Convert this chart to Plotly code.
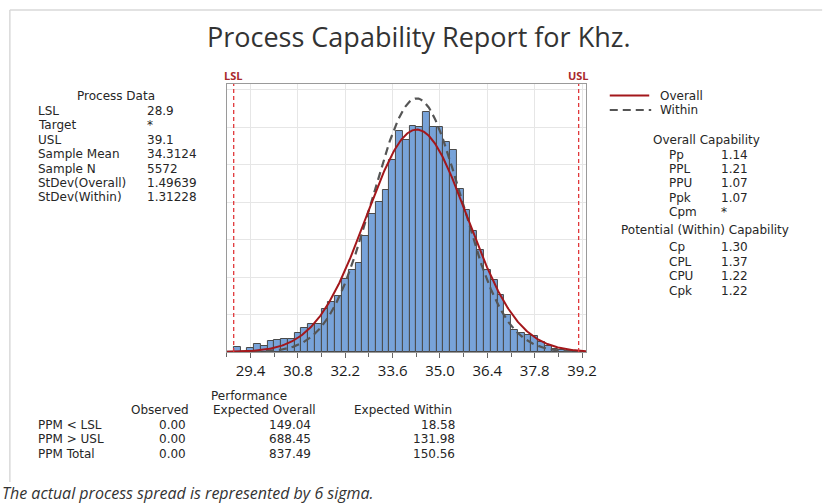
import numpy as np
import plotly.graph_objects as go

# ---------------- data ----------------
bin_centers = [29.0, 29.2, 29.4, 29.6, 29.8, 30.0, 30.2, 30.4, 30.6, 30.8,
               31.0, 31.2, 31.4, 31.6, 31.8, 32.0, 32.2, 32.4, 32.6, 32.8,
               33.0, 33.2, 33.4, 33.6, 33.8, 34.0, 34.2, 34.4, 34.6, 34.8,
               35.0, 35.2, 35.4, 35.6, 35.8, 36.0, 36.2, 36.4, 36.6, 36.8,
               37.0, 37.2, 37.4, 37.6, 37.8, 38.0, 38.2, 38.4, 38.6, 38.8, 39.0]
bin_counts = [7, 0, 6, 11, 8, 15, 16, 18, 17, 25,
              32, 38, 38, 58, 67, 75, 98, 110, 119, 155,
              185, 201, 217, 257, 295, 283, 302, 301, 321, 301,
              300, 280, 270, 218, 190, 162, 136, 109, 96, 76,
              50, 29, 25, 23, 21, 13, 8, 4, 3, 2, 1]
bin_width = 0.2

LSL = 28.9
USL = 39.1
sample_mean = 34.3124
sample_n = 5572
sd_overall = 1.49639
sd_within = 1.31228

tick_vals = [29.4, 30.8, 32.2, 33.6, 35.0, 36.4, 37.8, 39.2]
tick_text = ["29.4", "30.8", "32.2", "33.6", "35.0", "36.4", "37.8", "39.2"]

process_labels = ["LSL", "Target", "USL", "Sample Mean", "Sample N", "StDev(Overall)", "StDev(Within)"]
process_values = ["28.9", "*", "39.1", "34.3124", "5572", "1.49639", "1.31228"]

overall_labels = ["Pp", "PPL", "PPU", "Ppk", "Cpm"]
overall_values = ["1.14", "1.21", "1.07", "1.07", "*"]
within_labels = ["Cp", "CPL", "CPU", "Cpk"]
within_values = ["1.30", "1.37", "1.22", "1.22"]

perf_rows = ["PPM < LSL", "PPM > USL", "PPM Total"]
perf_observed = ["0.00", "0.00", "0.00"]
perf_exp_overall = ["149.04", "688.45", "837.49"]
perf_exp_within = ["18.58", "131.98", "150.56"]

# ---------------- layout helpers ----------------
W, H = 825, 503
FONT = "Open Sans, Noto Sans, sans-serif"
SMALL_FONT = "DejaVu Sans, Open Sans, sans-serif"
TXT = "#262626"
SMALL = 12


def px(x):
    return x / W


def py(y):
    return 1 - y / H


annotations = []
shapes = []


def text(x, y, s, size=SMALL, anchor="left", color=TXT, family=SMALL_FONT, **kw):
    annotations.append(dict(x=px(x), y=py(y), xref="paper", yref="paper", text=s,
                            showarrow=False, xanchor=anchor, yanchor="middle", borderpad=0,
                            font=dict(family=family, size=size, color=color), **kw))


# ---------------- figure ----------------
fig = go.Figure()
fig.add_trace(go.Bar(x=bin_centers, y=bin_counts, width=bin_width,
                     marker=dict(color="#78a3d9", line=dict(color="#4a4a4a", width=1)),
                     showlegend=False, hoverinfo="x+y"))

xs = np.linspace(28.7, 39.32, 400)
scale = sample_n * bin_width
y_overall = scale * np.exp(-0.5 * ((xs - sample_mean) / sd_overall) ** 2) / (sd_overall * np.sqrt(2 * np.pi))
y_within = scale * np.exp(-0.5 * ((xs - sample_mean) / sd_within) ** 2) / (sd_within * np.sqrt(2 * np.pi))

fig.add_trace(go.Scatter(x=xs, y=y_within, mode="lines",
                         line=dict(color="#555555", width=2.2, dash="8px,5px"), showlegend=False))
fig.add_trace(go.Scatter(x=xs, y=y_overall, mode="lines",
                         line=dict(color="#a3171b", width=2), showlegend=False))

# spec limit lines
for v, lab in [(LSL, "LSL"), (USL, "USL")]:
    shapes.append(dict(type="line", xref="x", yref="y domain", x0=v, x1=v, y0=0, y1=1,
                       line=dict(color="#e0383b", width=1.3, dash="4px,3px")))
    annotations.append(dict(x=v, xref="x", y=py(76), yref="paper", text="<b>%s</b>" % lab,
                            showarrow=False, xanchor="center", yanchor="middle",
                            font=dict(family=FONT, size=11, color="#a8282c")))

# outer frame
shapes.append(dict(type="line", xref="paper", yref="paper", x0=px(10), x1=px(10), y0=py(10), y1=py(482),
                   line=dict(color="#d9d9d9", width=1.5)))
shapes.append(dict(type="line", xref="paper", yref="paper", x0=px(10), x1=1.01, y0=py(10), y1=py(10),
                   line=dict(color="#d9d9d9", width=1.5)))

# title
text(425, 36, "Process Capability Report for Khz.", size=27, anchor="center", color="#333333", family=FONT)

# process data
text(118, 96, "Process Data", anchor="center")
for i, (l, v) in enumerate(zip(process_labels, process_values)):
    yy = 111 + i * 14.4
    text(37, yy, l)
    text(148, yy, v)

# legend
shapes.append(dict(type="line", xref="paper", yref="paper", x0=px(618), x1=px(658), y0=py(95.5), y1=py(95.5),
                   line=dict(color="#a3171b", width=2)))
shapes.append(dict(type="line", xref="paper", yref="paper", x0=px(618), x1=px(660), y0=py(110), y1=py(110),
                   line=dict(color="#555555", width=2, dash="8px,5px")))
text(668, 95.5, "Overall")
text(668, 110, "Within")

# capability
text(716, 140, "Overall Capability", anchor="center")
for i, (l, v) in enumerate(zip(overall_labels, overall_values)):
    yy = 154.5 + i * 14.4
    text(677, yy, l)
    text(730, yy, v)
text(715, 230, "Potential (Within) Capability", anchor="center")
for i, (l, v) in enumerate(zip(within_labels, within_values)):
    yy = 247 + i * 14.6
    text(677, yy, l)
    text(730, yy, v)

# performance
text(252, 395.5, "Performance", anchor="center")
text(162, 410, "Observed", anchor="center")
text(268, 410, "Expected Overall", anchor="center")
text(408, 410, "Expected Within", anchor="center")
for i, r in enumerate(perf_rows):
    yy = 424.5 + i * 14.5
    text(38, yy, r)
    text(190, yy, perf_observed[i], anchor="right")
    text(316, yy, perf_exp_overall[i], anchor="right")
    text(462, yy, perf_exp_within[i], anchor="right")

text(1, 493, "<i>The actual process spread is represented by 6 sigma.</i>", size=16, color="#333333",
     family=FONT)

fig.update_layout(
    width=W, height=H,
    margin=dict(l=0, r=0, t=0, b=0),
    paper_bgcolor="white", plot_bgcolor="white",
    bargap=0,
    shapes=shapes, annotations=annotations,
    xaxis=dict(domain=[px(230), px(594)], range=[28.7, 39.32],
               tickvals=tick_vals, ticktext=tick_text,
               ticks="outside", ticklen=5, tickcolor="#666666",
               minor=dict(ticks="outside", dtick=0.7, tick0=29.4, ticklen=4, tickcolor="#666666", showgrid=False),
               showgrid=True, gridcolor="#e6e6e6", gridwidth=1,
               showline=True, mirror=True, linecolor="#9a9a9a", linewidth=1,
               zeroline=False,
               tickfont=dict(family=FONT, size=15, color="#1a1a1a")),
    yaxis=dict(domain=[py(352), py(84)], range=[0, 358], dtick=50,
               showticklabels=False, ticks="",
               showgrid=True, gridcolor="#e6e6e6", gridwidth=1,
               showline=True, mirror=True, linecolor="#9a9a9a", linewidth=1,
               zeroline=False),
    showlegend=False,
)

fig.write_html("out.html", config={"displayModeBar": False},
               post_script="document.body.style.margin='0';document.body.style.overflow='hidden';")
